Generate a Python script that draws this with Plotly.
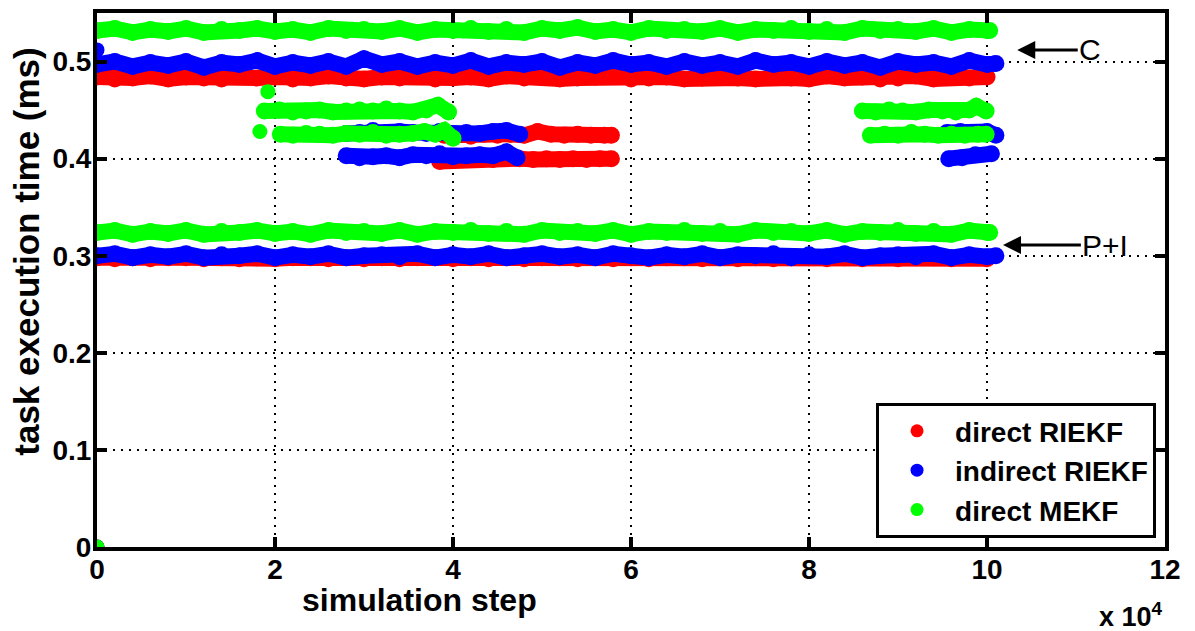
import plotly.graph_objects as go

# ---------------- data (x in units of 10^4 simulation steps, y in ms) ----------------
X_FULL = [0.0, 0.2, 0.4, 0.6, 0.8, 1.0, 1.2, 1.4, 1.6, 1.8, 2.0, 2.2, 2.4, 2.6, 2.8, 3.0,
          3.2, 3.4, 3.6, 3.8, 4.0, 4.2, 4.4, 4.6, 4.8, 5.0, 5.2, 5.4, 5.6, 5.8, 6.0, 6.2,
          6.4, 6.6, 6.8, 7.0, 7.2, 7.4, 7.6, 7.8, 8.0, 8.2, 8.4, 8.6, 8.8, 9.0, 9.2, 9.4,
          9.6, 9.8, 10.0]
X_BLUE_FULL = X_FULL + [10.1]
X_GREEN_FULL = X_FULL + [10.03]

# direct RIEKF (red)
R_TOP_Y = [0.484, 0.482, 0.483, 0.485, 0.482, 0.484, 0.483, 0.482, 0.485, 0.483,
           0.484, 0.482, 0.483, 0.485, 0.483, 0.482, 0.484, 0.483, 0.485, 0.482,
           0.483, 0.484, 0.482, 0.485, 0.483, 0.484, 0.482, 0.483, 0.484, 0.485,
           0.482, 0.483, 0.484, 0.482, 0.483, 0.485, 0.483, 0.482, 0.484, 0.483,
           0.482, 0.485, 0.483, 0.484, 0.482, 0.483, 0.485, 0.482, 0.484, 0.483, 0.484]
R_LOW_Y = [0.298, 0.297, 0.298, 0.297, 0.298, 0.298, 0.297, 0.298, 0.297, 0.298,
           0.297, 0.298, 0.298, 0.297, 0.298, 0.297, 0.298, 0.297, 0.298, 0.298,
           0.297, 0.298, 0.297, 0.298, 0.297, 0.298, 0.298, 0.297, 0.298, 0.297,
           0.298, 0.297, 0.298, 0.298, 0.297, 0.298, 0.297, 0.298, 0.297, 0.298,
           0.298, 0.297, 0.298, 0.297, 0.298, 0.297, 0.298, 0.298, 0.297, 0.298, 0.297]
R_MA_X = [3.9, 4.05, 4.2, 4.35, 4.5, 4.65, 4.8, 4.95, 5.1, 5.25, 5.4, 5.55, 5.7, 5.78]
R_MA_Y = [0.424, 0.425, 0.423, 0.425, 0.424, 0.425, 0.424, 0.428, 0.425, 0.424, 0.425, 0.424, 0.424, 0.424]
R_MB_X = [3.85, 4.0, 4.15, 4.3, 4.45, 4.6, 4.75, 4.9, 5.05, 5.2, 5.35, 5.5, 5.65, 5.78]
R_MB_Y = [0.397, 0.398, 0.399, 0.400, 0.399, 0.401, 0.400, 0.399, 0.400, 0.399, 0.400, 0.399, 0.400, 0.400]
R_PTS_X = [0.0]
R_PTS_Y = [0.0]

# indirect RIEKF (blue)
B_TOP_Y = [0.497, 0.500, 0.495, 0.499, 0.496, 0.500, 0.494, 0.499, 0.497, 0.501,
           0.495, 0.499, 0.496, 0.500, 0.495, 0.503, 0.497, 0.500, 0.495, 0.499,
           0.496, 0.501, 0.495, 0.499, 0.497, 0.500, 0.494, 0.499, 0.496, 0.501,
           0.497, 0.499, 0.495, 0.500, 0.496, 0.499, 0.495, 0.501, 0.497, 0.499,
           0.495, 0.500, 0.496, 0.499, 0.494, 0.500, 0.497, 0.499, 0.495, 0.501,
           0.497, 0.498]
B_LOW_Y = [0.300, 0.302, 0.298, 0.301, 0.299, 0.302, 0.298, 0.301, 0.300, 0.302,
           0.298, 0.301, 0.299, 0.302, 0.298, 0.300, 0.301, 0.299, 0.302, 0.298,
           0.301, 0.299, 0.302, 0.298, 0.300, 0.302, 0.299, 0.301, 0.298, 0.302,
           0.300, 0.298, 0.301, 0.299, 0.302, 0.298, 0.301, 0.300, 0.302, 0.298,
           0.301, 0.299, 0.302, 0.298, 0.300, 0.301, 0.299, 0.302, 0.298, 0.301,
           0.299, 0.300]
B_MA_LX = [2.8, 2.95, 3.1, 3.25, 3.4, 3.55, 3.7, 3.85, 4.0, 4.15, 4.3, 4.45, 4.6, 4.75]
B_MA_LY = [0.426, 0.427, 0.429, 0.426, 0.428, 0.427, 0.426, 0.428, 0.426, 0.427, 0.426, 0.428, 0.429, 0.425]
B_MA_RX = [9.55, 9.7, 9.85, 10.0, 10.1]
B_MA_RY = [0.427, 0.428, 0.426, 0.428, 0.424]
B_MB_LX = [2.8, 2.95, 3.1, 3.25, 3.4, 3.55, 3.7, 3.85, 4.0, 4.15, 4.3, 4.45, 4.6, 4.72]
B_MB_LY = [0.403, 0.401, 0.402, 0.403, 0.401, 0.404, 0.403, 0.405, 0.402, 0.403, 0.404, 0.403, 0.407, 0.401]
B_MB_RX = [9.57, 9.72, 9.87, 10.05]
B_MB_RY = [0.400, 0.401, 0.404, 0.405]
B_PTS_X = [0.0, 0.0]
B_PTS_Y = [0.512, 0.0]

# direct MEKF (green)
G_TOP_Y = [0.532, 0.534, 0.530, 0.533, 0.531, 0.534, 0.530, 0.533, 0.532, 0.534,
           0.531, 0.533, 0.530, 0.534, 0.532, 0.533, 0.531, 0.534, 0.530, 0.533,
           0.532, 0.534, 0.531, 0.533, 0.530, 0.534, 0.532, 0.535, 0.531, 0.533,
           0.530, 0.534, 0.532, 0.533, 0.531, 0.534, 0.530, 0.533, 0.532, 0.534,
           0.531, 0.533, 0.530, 0.534, 0.532, 0.533, 0.531, 0.534, 0.530, 0.533,
           0.532, 0.532]
G_LOW_Y = [0.324, 0.326, 0.322, 0.325, 0.323, 0.326, 0.322, 0.325, 0.324, 0.326,
           0.323, 0.325, 0.322, 0.326, 0.324, 0.325, 0.323, 0.326, 0.322, 0.325,
           0.324, 0.326, 0.323, 0.325, 0.322, 0.326, 0.324, 0.325, 0.323, 0.326,
           0.322, 0.325, 0.324, 0.326, 0.323, 0.325, 0.322, 0.326, 0.324, 0.325,
           0.323, 0.326, 0.322, 0.325, 0.324, 0.326, 0.323, 0.325, 0.322, 0.326,
           0.324, 0.324]
G_H1_LX = [1.88, 2.05, 2.2, 2.35, 2.5, 2.65, 2.8, 2.95, 3.1, 3.25, 3.4, 3.55, 3.7, 3.83, 3.95]
G_H1_LY = [0.449, 0.450, 0.448, 0.449, 0.450, 0.448, 0.449, 0.450, 0.449, 0.451, 0.449, 0.448, 0.450, 0.455, 0.448]
G_H1_RX = [8.6, 8.75, 8.9, 9.05, 9.2, 9.35, 9.5, 9.65, 9.8, 9.88, 9.99]
G_H1_RY = [0.449, 0.448, 0.450, 0.449, 0.448, 0.450, 0.449, 0.448, 0.450, 0.454, 0.449]
G_H2_LX = [2.06, 2.2, 2.35, 2.5, 2.65, 2.8, 2.95, 3.1, 3.25, 3.4, 3.55, 3.68, 3.8, 3.9, 4.0]
G_H2_LY = [0.425, 0.424, 0.426, 0.425, 0.424, 0.426, 0.425, 0.427, 0.424, 0.425, 0.426, 0.428, 0.425, 0.429, 0.421]
G_H2_RX = [8.69, 8.85, 9.0, 9.15, 9.3, 9.45, 9.6, 9.75, 9.9, 9.99]
G_H2_RY = [0.424, 0.425, 0.424, 0.427, 0.425, 0.424, 0.425, 0.424, 0.425, 0.425]
G_PTS_X = [1.92, 1.83, 0.0]
G_PTS_Y = [0.469, 0.428, 0.0]

SERIES_NAMES = ["direct RIEKF", "indirect RIEKF", "direct MEKF"]
X_TICKS = [0, 2, 4, 6, 8, 10, 12]
Y_TICKS = [0, 0.1, 0.2, 0.3, 0.4, 0.5]
Y_TICK_TEXT = ["0", "0.1", "0.2", "0.3", "0.4", "0.5"]

RED, BLUE, GREEN = "#ff0000", "#0000ff", "#00ff00"
MS = 17   # marker diameter
LW = 16   # band line width

fig = go.Figure()


def band(xs, ys, color):
    fig.add_trace(go.Scatter(x=xs, y=ys, mode="lines+markers",
                             line=dict(color=color, width=LW),
                             marker=dict(color=color, size=MS),
                             showlegend=False, hoverinfo="skip"))


def points(xs, ys, color):
    fig.add_trace(go.Scatter(x=xs, y=ys, mode="markers",
                             marker=dict(color=color, size=15),
                             showlegend=False, hoverinfo="skip"))


# red first, then blue, then green on top
band(X_FULL, R_TOP_Y, RED)
band(X_FULL, R_LOW_Y, RED)
band(R_MA_X, R_MA_Y, RED)
band(R_MB_X, R_MB_Y, RED)
points(R_PTS_X, R_PTS_Y, RED)

band(X_BLUE_FULL, B_TOP_Y, BLUE)
band(X_BLUE_FULL, B_LOW_Y, BLUE)
band(B_MA_LX, B_MA_LY, BLUE)
band(B_MA_RX, B_MA_RY, BLUE)
band(B_MB_LX, B_MB_LY, BLUE)
band(B_MB_RX, B_MB_RY, BLUE)
points(B_PTS_X, B_PTS_Y, BLUE)

band(X_GREEN_FULL, G_TOP_Y, GREEN)
band(X_GREEN_FULL, G_LOW_Y, GREEN)
band(G_H1_LX, G_H1_LY, GREEN)
band(G_H1_RX, G_H1_RY, GREEN)
band(G_H2_LX, G_H2_LY, GREEN)
band(G_H2_RX, G_H2_RY, GREEN)
points(G_PTS_X, G_PTS_Y, GREEN)

# legend entries
for name, color in zip(SERIES_NAMES, [RED, BLUE, GREEN]):
    fig.add_trace(go.Scatter(x=[None], y=[None], mode="markers", name=name,
                             marker=dict(color=color, size=13)))

FONT = "Liberation Sans, Arial, sans-serif"
axis_common = dict(
    showline=True, linecolor="black", linewidth=4, mirror="ticks",
    ticks="inside", ticklen=10, tickwidth=3.5, tickcolor="black",
    showgrid=True, gridcolor="black", gridwidth=1.5, griddash="2px,6px",
    zeroline=False,
    tickfont=dict(family=FONT, size=28, color="black", weight="bold"),
)

fig.update_xaxes(range=[0, 12], tickvals=X_TICKS, ticktext=[str(v) for v in X_TICKS],
                 ticklabelstandoff=-6, **axis_common)
fig.update_yaxes(range=[0, 0.55], tickvals=Y_TICKS, ticktext=Y_TICK_TEXT,
                 ticklabelstandoff=-4, **axis_common)

# page body has an 8px margin: size the figure so the plot lands where the reference has it
fig.update_layout(
    width=1187, height=623,
    margin=dict(l=89, r=30, t=1, b=84),
    paper_bgcolor="white", plot_bgcolor="white",
    font=dict(family=FONT, color="black"),
    legend=dict(x=0.9916, y=0.0167, xanchor="right", yanchor="bottom",
                bgcolor="white", bordercolor="black", borderwidth=3,
                font=dict(family=FONT, size=28, color="black", weight="bold"),
                itemwidth=66, tracegroupgap=0),
    annotations=[
        dict(text="task execution time (ms)", xref="paper", yref="paper",
             x=-0.0655, y=0.553, textangle=-90, showarrow=False,
             xanchor="center", yanchor="middle",
             font=dict(family=FONT, size=35, color="black", weight="bold")),
        dict(text="simulation step", xref="paper", yref="paper",
             x=0.3015, y=-0.0985, showarrow=False, xanchor="center", yanchor="middle",
             font=dict(family=FONT, size=32, color="black", weight="bold")),
        dict(text="x 10<sup>4</sup>", xref="paper", yref="paper",
             x=1.0, y=-0.128, showarrow=False, xanchor="right", yanchor="middle",
             font=dict(family=FONT, size=27, color="black", weight="bold")),
        dict(text="C", x=10.34, y=0.512, ax=11.16, ay=0.512, axref="x", ayref="y",
             xref="x", yref="y", showarrow=True, arrowhead=2, arrowsize=1.2,
             arrowwidth=3, arrowcolor="black",
             font=dict(family=FONT, size=30, color="black")),
        dict(text="P+I", x=10.18, y=0.311, ax=11.33, ay=0.311, axref="x", ayref="y",
             xref="x", yref="y", showarrow=True, arrowhead=2, arrowsize=1.2,
             arrowwidth=3, arrowcolor="black",
             font=dict(family=FONT, size=30, color="black")),
    ],
)

fig.write_html("out.html")
